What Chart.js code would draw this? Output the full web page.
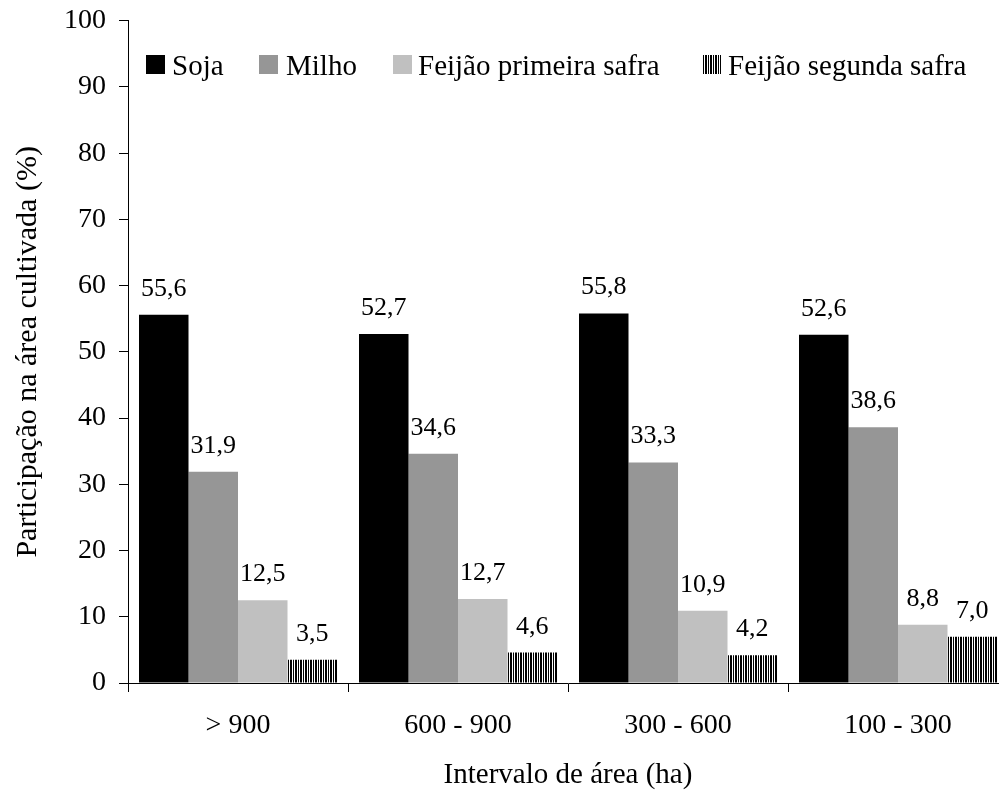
<!DOCTYPE html>
<html><head><meta charset="utf-8">
<script src="https://cdn.jsdelivr.net/npm/chart.js@4/dist/chart.umd.min.js"></script>
<style>html,body{margin:0;padding:0;overflow:hidden;background:#fff}#wrap{width:1008px;height:793px}</style>
</head><body><div id="wrap"><canvas id="c" width="1008" height="793"></canvas></div>
<script>
const categories = ['> 900', '600 - 900', '300 - 600', '100 - 300'];
const seriesNames = ['Soja', 'Milho', 'Feijão primeira safra', 'Feijão segunda safra'];
const soja = [55.6, 52.7, 55.8, 52.6];
const milho = [31.9, 34.6, 33.3, 38.6];
const feijao1 = [12.5, 12.7, 10.9, 8.8];
const feijao2 = [3.5, 4.6, 4.2, 7.0];
const yTicks = [0, 10, 20, 30, 40, 50, 60, 70, 80, 90, 100];

const FONT = '"Liberation Serif", "Times New Roman", serif';

function stripePattern() {
  const pc = document.createElement('canvas');
  pc.width = 5; pc.height = 4;
  const g = pc.getContext('2d');
  g.fillStyle = '#fff'; g.fillRect(0, 0, 5, 4);
  g.fillStyle = '#000';
  g.fillRect(0, 0, 2, 4);
  g.fillRect(3, 0, 1, 4);
  return document.getElementById('c').getContext('2d').createPattern(pc, 'repeat');
}
const pat = stripePattern();
const colors = ['#000000', '#969696', '#c0c0c0', pat];

const labelPlugin = {
  id: 'vals',
  afterDatasetsDraw(chart) {
    const ctx = chart.ctx;
    ctx.save();
    ctx.font = '26px ' + FONT;
    ctx.fillStyle = '#000';
    ctx.textAlign = 'center';
    ctx.textBaseline = 'alphabetic';
    chart.data.datasets.forEach((ds, i) => {
      chart.getDatasetMeta(i).data.forEach((bar, j) => {
        ctx.fillText(ds.data[j].toFixed(1).replace('.', ','), bar.x, bar.y - 19);
      });
    });
    ctx.restore();
  }
};

const legendPlugin = {
  id: 'customLegend',
  afterDraw(chart) {
    const ctx = chart.ctx;
    ctx.save();
    ctx.font = '29px ' + FONT;
    ctx.textBaseline = 'alphabetic';
    const boxX = [146, 259, 393, 702];
    const textX = [172, 286, 418, 728];
    seriesNames.forEach((n, i) => {
      ctx.fillStyle = colors[i];
      ctx.fillRect(boxX[i], 55, 19, 19);
      ctx.fillStyle = '#000';
      ctx.fillText(n, textX[i], 75);
    });
    ctx.restore();
  }
};

new Chart(document.getElementById('c'), {
  type: 'bar',
  data: {
    labels: categories,
    datasets: [soja, milho, feijao1, feijao2].map((d, i) => ({
      label: seriesNames[i],
      data: d,
      backgroundColor: colors[i],
      borderWidth: 0,
      categoryPercentage: 0.9,
      barPercentage: 1.0
    }))
  },
  options: {
    responsive: false,
    animation: false,
    layout: { padding: { top: 20.7, right: 0, left: 0, bottom: 0 } },
    plugins: { legend: { display: false }, tooltip: { enabled: false } },
    scales: {
      x: {
        afterFit(s) { s.height = 110; },
        grid: { offset: true, drawOnChartArea: false, tickLength: 9, color: '#000', tickWidth: 1 },
        border: { color: '#000', width: 1 },
        ticks: { color: '#000', font: { family: FONT, size: 28 }, padding: 17, maxRotation: 0 },
        title: { display: true, text: 'Intervalo de área (ha)', color: '#000', font: { family: FONT, size: 29 }, padding: { top: 0, bottom: 0 } }
      },
      y: {
        min: 0, max: 100,
        afterFit(s) { s.width = 128; },
        afterBuildTicks(s) { s.ticks = yTicks.map(v => ({ value: v })); },
        grid: { drawOnChartArea: false, tickLength: 9, color: '#000' },
        border: { color: '#000', width: 1 },
        ticks: { color: '#000', font: { family: FONT, size: 28, lineHeight: 0.5 }, padding: 13 },
        title: { display: true, text: 'Participação na área cultivada (%)', color: '#000', font: { family: FONT, size: 30 }, padding: { top: 10, bottom: 0 } }
      }
    }
  },
  plugins: [labelPlugin, legendPlugin]
});
</script></body></html>
